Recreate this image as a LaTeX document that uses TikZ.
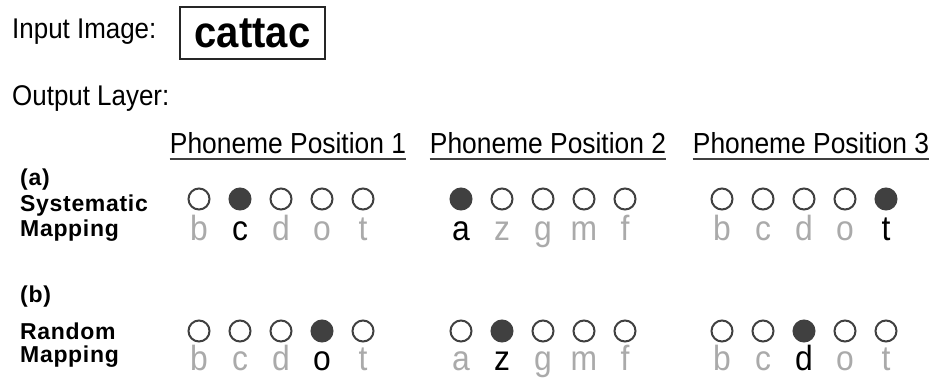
\documentclass[tikz,border=0pt]{standalone}
\usepackage{fontspec}
\setmainfont[FakeStretch=0.91]{Liberation Sans}
\newfontfamily\tagfont[LetterSpace=3]{Liberation Sans}
\usetikzlibrary{positioning}
\definecolor{unitgray}{HTML}{404040}
\definecolor{lettergray}{HTML}{AAAAAA}
\tikzset{
  lbl/.style={anchor=base west, inner sep=0pt, font=\fontsize{28.5}{32}\selectfont},
  tag/.style={anchor=base west, inner sep=0pt, font=\tagfont\fontsize{23}{27}\selectfont\bfseries},
  head/.style={anchor=base, inner sep=0pt, font=\fontsize{29}{33}\selectfont},
  ul/.style={draw=unitgray, line width=2pt},
  unit/.style={circle, draw=unitgray, line width=2pt, minimum size=21pt, inner sep=0pt},
  letter/.style={anchor=base, inner sep=0pt, font=\fontsize{35}{39}\selectfont},
}
\begin{document}
\begin{tikzpicture}[x=1pt, y=-1pt]
    \useasboundingbox (0,0) rectangle (936,389);

    \node[lbl] (inlbl) at (12,38) {Input Image:};
    \node[draw=black!85, line width=2pt, minimum width=145pt, minimum height=52pt, inner sep=0pt,
      font=\fontsize{44}{48}\selectfont\bfseries] (img) at (252.5,33) {cattac};
    \node[lbl] (outlbl) at (12,105) {Output Layer:};

    % phoneme slots
    \node[head] (pos1) at (288,153) {Phoneme Position 1};
    \node[head] (pos2) at (548,153) {Phoneme Position 2};
    \node[head] (pos3) at (811,153) {Phoneme Position 3};
    \foreach \p in {pos1,pos2,pos3}
      \draw[ul] ([yshift=-6pt]\p.base west) -- ([yshift=-6pt]\p.base east);

    \node[tag] (tagA) at (20,185) {(a)};
    \node[tag] (sysA) at (20,211) {Systematic};
    \node[tag] (mapA) at (20,236) {Mapping};
    \node[tag] (tagB) at (20,302) {(b)};
    \node[tag] (rndB) at (20,339) {Random};
    \node[tag] (mapB) at (20,362) {Mapping};

    % output units
    \foreach \grp/\xo/\cy/\ly/\on/\lst in {
      a1/199/199/240/2/{b,c,d,o,t},
      a2/461/199/240/1/{a,z,g,m,f},
      a3/722/199/240/5/{b,c,d,o,t},
      b1/199/331/370/4/{b,c,d,o,t},
      b2/461/331/370/2/{a,z,g,m,f},
      b3/722/331/370/3/{b,c,d,o,t}}
    {
      \foreach \ch [count=\i] in \lst {
        \ifnum\i=\on \def\fc{unitgray}\def\tc{black}\else \def\fc{white}\def\tc{lettergray}\fi
        \node[unit, fill=\fc] (\grp u\i) at ({\xo+(\i-1)*41},\cy) {};
        \node[letter, text=\tc] (\grp l\i) at ({\xo+(\i-1)*41},\ly) {\ch};
      }
    }
\end{tikzpicture}
\end{document}
